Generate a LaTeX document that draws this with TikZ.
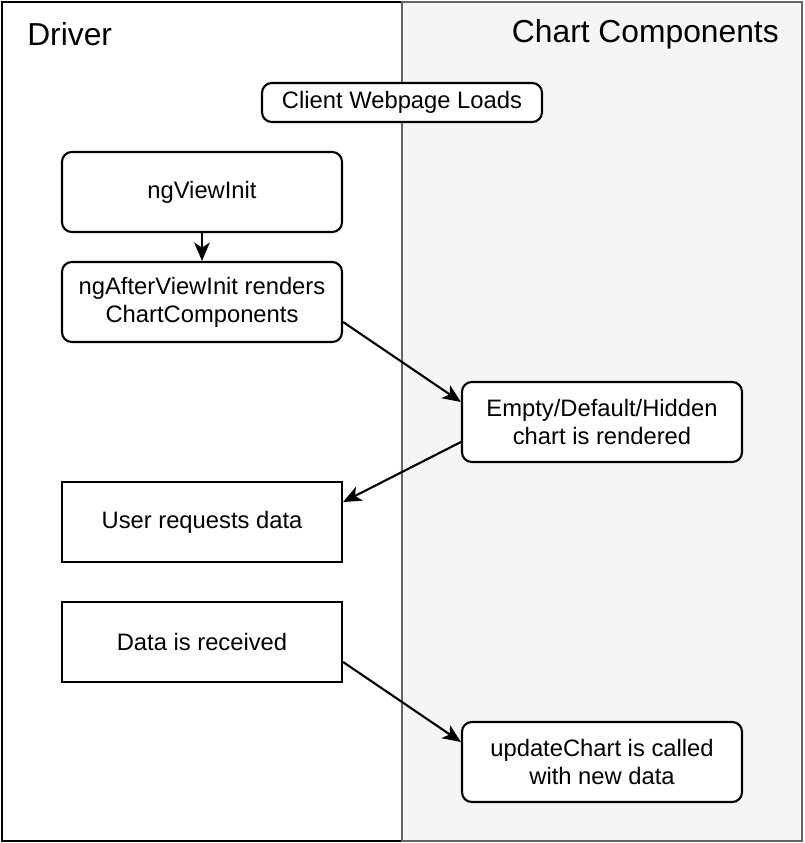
\documentclass[tikz,border=0pt]{standalone}
\usepackage{fontspec}
\setmainfont{Liberation Sans}
\usepackage{tikz}
\usetikzlibrary{arrows.meta, positioning, calc}
\definecolor{lanegray}{RGB}{102,102,102}
\definecolor{lanefill}{RGB}{245,245,245}
\tikzset{
  roundbox/.style={rectangle, draw=black, fill=white, line width=1.5pt,
    rounded corners=7pt, minimum width=7cm, minimum height=2cm,
    align=center, font=\fontsize{16.9}{20}\selectfont},
  plainbox/.style={roundbox, rounded corners=0pt},
  lanetitle/.style={font=\fontsize{22.6}{26}\selectfont, inner sep=0pt},
  arrow/.style={-{Stealth[length=13pt,width=11pt,inset=3.5pt]}, line width=1.5pt, color=black}
}
\begin{document}
\begin{tikzpicture}[x=0.025cm, y=-0.025cm]
  \useasboundingbox (0,0) rectangle (804,843);
  % Swimlanes
  \draw[line width=1.5pt, fill=white] (2,2) rectangle (402,841);
  \draw[line width=1.5pt, draw=lanegray, fill=lanefill] (402,2) rectangle (802,841);
  \node[lanetitle, anchor=west] (drivertitle) at (27,34) {Driver};
  \node[lanetitle, anchor=east] (charttitle) at (779,34) {Chart Components};
  % Steps
  \node[roundbox, minimum height=0.975cm] (pageload) at (402,102.5) {Client Webpage Loads};
  \node[roundbox] (viewinit) at (202,192) {ngViewInit};
  \node[roundbox] (afterinit) at (202,302) {ngAfterViewInit renders\\ChartComponents};
  \node[roundbox] (emptychart) at (602,422) {Empty/Default/Hidden\\chart is rendered};
  \node[plainbox] (userreq) at (202,522) {User requests data};
  \node[plainbox] (datarecv) at (202,642) {Data is received};
  \node[roundbox] (update) at (602,762) {updateChart is called\\with new data};
  % Flow
  \draw[arrow] (viewinit) -- (afterinit);
  \draw[arrow] ([yshift=-0.5cm]afterinit.east) -- ([yshift=0.5cm]emptychart.west);
  \draw[arrow] ([yshift=-0.5cm]emptychart.west) -- ([yshift=0.5cm]userreq.east);
  \draw[arrow] ([yshift=-0.5cm]datarecv.east) -- ([yshift=0.5cm]update.west);
\end{tikzpicture}
\end{document}
